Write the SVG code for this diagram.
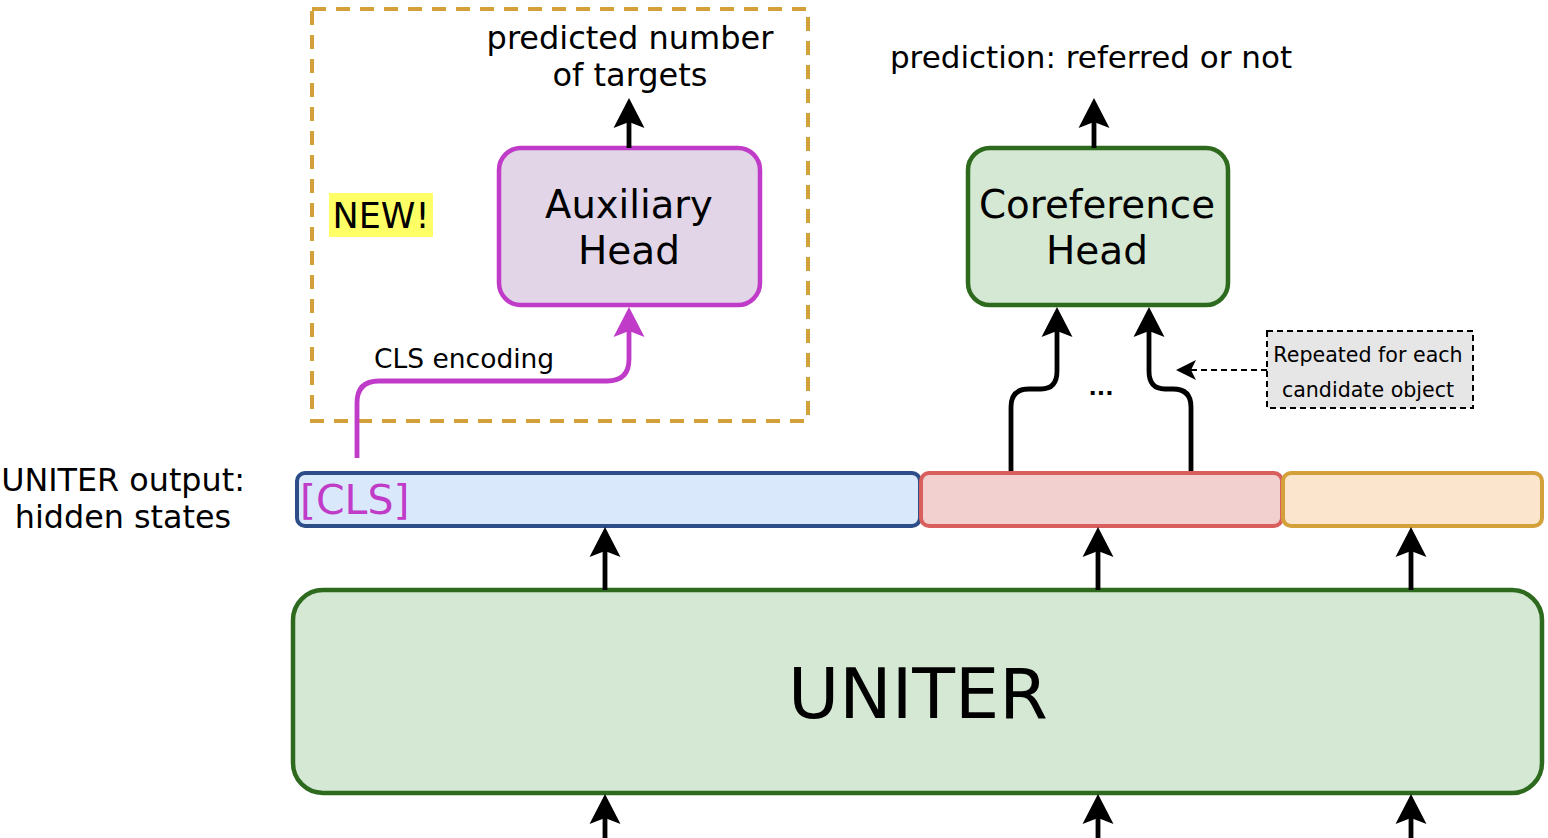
<svg xmlns="http://www.w3.org/2000/svg" width="1548" height="838" viewBox="0 0 1548 838">
<style>
text{font-family:"DejaVu Sans","Liberation Sans",sans-serif;fill:#000}
.c{text-anchor:middle}
.blk{fill:none;stroke:#000;stroke-width:4.8}
</style>
<defs>
<marker id="ah" viewBox="-32 -17 34 34" refX="-24" refY="0" markerWidth="34" markerHeight="34" markerUnits="userSpaceOnUse" orient="auto">
<path d="M0,0 L-30,-15.5 L-24,0 L-30,15.5 Z" fill="#000"/>
</marker>
<marker id="ahm" viewBox="-32 -17 34 34" refX="-24" refY="0" markerWidth="34" markerHeight="34" markerUnits="userSpaceOnUse" orient="auto">
<path d="M0,0 L-30,-15.5 L-24,0 L-30,15.5 Z" fill="#bf3bc8"/>
</marker>
<marker id="ahs" viewBox="-22 -12 24 24" refX="-15" refY="0" markerWidth="24" markerHeight="24" markerUnits="userSpaceOnUse" orient="auto">
<path d="M0,0 L-20,-10 L-15,0 L-20,10 Z" fill="#000"/>
</marker>
</defs>

<g id="new-region">
<rect x="312" y="9" width="496" height="412" fill="none" stroke="#d4a03a" stroke-width="4" stroke-dasharray="14 10"/>
<rect x="329" y="193" width="104" height="44" fill="#ffff66"/>
<text x="381" y="228" class="c" font-size="35">NEW!</text>
</g>

<g id="aux-output-label">
<text x="630" y="49" class="c" font-size="32">predicted number</text>
<text x="630" y="86" class="c" font-size="32">of targets</text>
</g>

<g id="auxiliary-head">
<rect x="499" y="148" width="261" height="157" rx="22" fill="#e1d5e7" stroke="#bf3bc8" stroke-width="4.5"/>
<text x="629" y="218" class="c" font-size="38.5">Auxiliary</text>
<text x="629" y="264" class="c" font-size="39">Head</text>
</g>

<g id="coref-output-label">
<text x="1091" y="68" class="c" font-size="31">prediction: referred or not</text>
</g>

<g id="coreference-head">
<rect x="968" y="148" width="260" height="157" rx="22" fill="#d5e8d4" stroke="#2d6a1e" stroke-width="4.5"/>
<text x="1097" y="218" class="c" font-size="38.8">Coreference</text>
<text x="1097" y="264" class="c" font-size="39">Head</text>
</g>

<g id="repeated-note">
<rect x="1267" y="331" width="206" height="77" fill="#e6e6e6" stroke="#000" stroke-width="2" stroke-dasharray="6 4"/>
<text x="1368" y="362" class="c" font-size="20.6">Repeated for each</text>
<text x="1368" y="397" class="c" font-size="20.6">candidate object</text>
</g>

<g id="hidden-states">
<text x="123" y="491" class="c" font-size="31.8">UNITER output:</text>
<text x="123" y="528" class="c" font-size="31.8">hidden states</text>
<rect x="297" y="473" width="623" height="53" rx="8" fill="#dae8fc" stroke="#2c4d87" stroke-width="4"/>
<text x="300" y="514" font-size="41" style="fill:#bf3bc8">[CLS]</text>
<rect x="921" y="473" width="361" height="53" rx="8" fill="#f2d0cf" stroke="#d95f5e" stroke-width="4"/>
<rect x="1283" y="473" width="259" height="53" rx="8" fill="#fbe5cd" stroke="#d4a03a" stroke-width="4"/>
</g>

<g id="uniter">
<rect x="293" y="590" width="1249" height="203" rx="30" fill="#d5e8d4" stroke="#2d6a1e" stroke-width="4.5"/>
<text x="918" y="718" class="c" font-size="70">UNITER</text>
</g>

<g id="connectors">
<line class="blk" x1="629" y1="148" x2="629" y2="122" marker-end="url(#ah)"/>
<line class="blk" x1="1094" y1="148" x2="1094" y2="122" marker-end="url(#ah)"/>
<path d="M357,458 V403 Q357,381 379,381 H607 Q629,381 629,359 V331" fill="none" stroke="#bf3bc8" stroke-width="4.8" marker-end="url(#ahm)"/>
<text x="374" y="368" font-size="26.5">CLS encoding</text>
<path class="blk" d="M1011,471 V407 Q1011,389 1029,389 H1041 Q1057,389 1057,371 V331" marker-end="url(#ah)"/>
<path class="blk" d="M1191,471 V407 Q1191,389 1173,389 H1165 Q1149,389 1149,371 V331" marker-end="url(#ah)"/>
<text x="1101" y="395" class="c" font-size="22" font-weight="bold">...</text>
<line x1="1267" y1="370" x2="1191" y2="370" stroke="#000" stroke-width="2" stroke-dasharray="6 4" marker-end="url(#ahs)"/>
<line class="blk" x1="605" y1="590" x2="605" y2="551" marker-end="url(#ah)"/>
<line class="blk" x1="1098" y1="590" x2="1098" y2="551" marker-end="url(#ah)"/>
<line class="blk" x1="1411" y1="590" x2="1411" y2="551" marker-end="url(#ah)"/>
<line class="blk" x1="605" y1="840" x2="605" y2="818" marker-end="url(#ah)"/>
<line class="blk" x1="1098" y1="840" x2="1098" y2="818" marker-end="url(#ah)"/>
<line class="blk" x1="1411" y1="840" x2="1411" y2="818" marker-end="url(#ah)"/>
</g>
</svg>
